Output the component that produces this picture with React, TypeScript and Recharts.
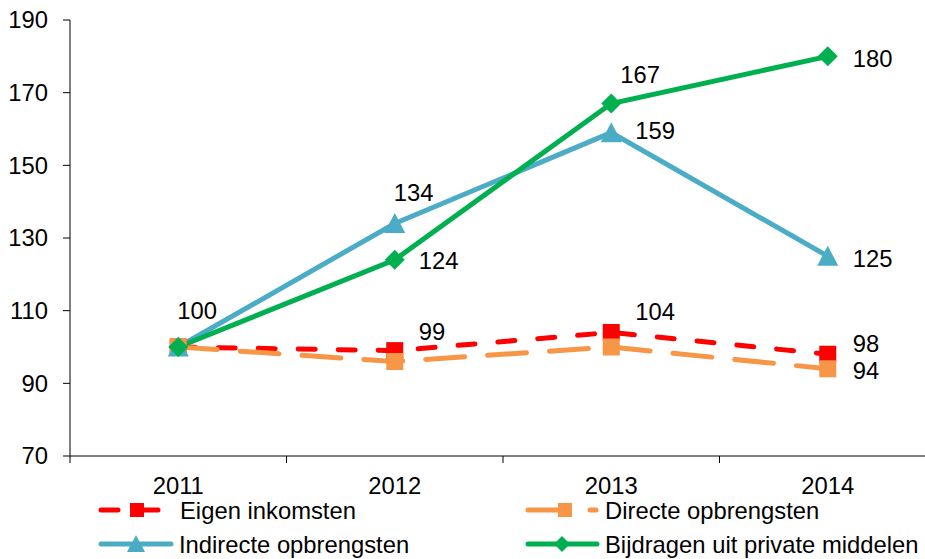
import React from 'react'
import { LineChart, Line, XAxis, YAxis, LabelList } from 'recharts'

const years = ['2011', '2012', '2013', '2014']
const eigenInkomsten = [100, 99, 104, 98]
const directeOpbrengsten = [100, 96, 100, 94]
const indirecteOpbrengsten = [100, 134, 159, 125]
const privateMiddelen = [100, 124, 167, 180]
const yTicks = [70, 90, 110, 130, 150, 170, 190]
const seriesNames = [
  'Eigen inkomsten',
  'Directe opbrengsten',
  'Indirecte opbrengsten',
  'Bijdragen uit private middelen',
]

const rows = years.map((year, i) => ({
  x: i,
  year,
  eigen: eigenInkomsten[i],
  directe: directeOpbrengsten[i],
  indirecte: indirecteOpbrengsten[i],
  privaat: privateMiddelen[i],
}))
// category boundaries get a tick mark, category centres get the year
const xTicks = [-0.5, 0, 0.5, 1, 1.5, 2, 2.5, 3, 3.5]

const FONT = '"Liberation Sans", Arial, sans-serif'
const FS = 23.8
const RED = '#FF0000'
const ORANGE = '#F79646'
const BLUE = '#4BACC6'
const GREEN = '#00B050'
const RED_DASH = '17 23'
const ORANGE_DASH = '39 23'
const X_TICK_SIZE = 7
const X_TICK_MARGIN = 14

// label placement per point: [dx, dy] from the marker, null = no label
const eigenLabels = [[-1, -37], [24, -19], [24, -21], [25, -11]]
const directeLabels = [null, null, null, [25, 2]]
const indirecteLabels = [null, [-1, -31], [24, -2], [25, 2]]
const privaatLabels = [null, [24, 1], [9, -29], [25, 2]]

function pointLabel(offsets: (number[] | null)[]) {
  return (props: any) => {
    const { x, y, value, index } = props
    const o = offsets[index]
    if (!o || value == null) return null
    return (
      <text x={x + o[0]} y={y + o[1]} dominantBaseline="central" fontSize={FS} fontFamily={FONT} fill="#000">
        {value}
      </text>
    )
  }
}

function Marker({ kind, cx, cy, color, size }: { kind: string; cx: number; cy: number; color: string; size: number }) {
  const h = size / 2
  if (kind === 'square') return <rect x={cx - h} y={cy - h} width={size} height={size} fill={color} />
  if (kind === 'triangle')
    return <polygon points={`${cx},${cy - h - 1} ${cx + h + 1},${cy + h} ${cx - h - 1},${cy + h}`} fill={color} />
  return <polygon points={`${cx},${cy - h} ${cx + h},${cy} ${cx},${cy + h} ${cx - h},${cy}`} fill={color} />
}

function dot(kind: string, color: string, size: number) {
  return (props: any) => {
    const { cx, cy, index } = props
    if (cx == null || cy == null) return <g key={index} />
    return <Marker key={index} kind={kind} cx={cx} cy={cy} color={color} size={size} />
  }
}

function XTick(props: any) {
  const { x, y, payload } = props
  const v = payload.value
  if (Number.isInteger(v)) {
    return (
      <text x={x} y={y} dy="0.71em" textAnchor="middle" fontSize={FS} fontFamily={FONT} fill="#000">
        {years[v]}
      </text>
    )
  }
  const axisY = y - X_TICK_SIZE - X_TICK_MARGIN
  return <line x1={x} x2={x} y1={axisY} y2={axisY + X_TICK_SIZE} stroke="#000" />
}

const legendItems = [
  { name: seriesNames[0], color: RED, dash: RED_DASH, kind: 'square', x: 101, end: 164, mx: 137, tx: 180, cy: 510 },
  { name: seriesNames[1], color: ORANGE, dash: ORANGE_DASH, kind: 'square', x: 528, end: 596, mx: 565, tx: 605, cy: 510 },
  { name: seriesNames[2], color: BLUE, dash: undefined, kind: 'triangle', x: 101, end: 171, mx: 136, tx: 179, cy: 544 },
  { name: seriesNames[3], color: GREEN, dash: undefined, kind: 'diamond', x: 528, end: 597, mx: 562, tx: 605, cy: 544 },
]

export default function App() {
  return (
    <div
      style={{
        position: 'absolute',
        left: 0,
        top: 0,
        width: 925,
        height: 559,
        overflow: 'hidden',
        background: '#fff',
        fontFamily: FONT,
      }}
    >
      <LineChart width={940} height={559} data={rows} margin={{ top: 20, right: 4, bottom: 73, left: 0 }}>
        <YAxis
          type="number"
          domain={[70, 190]}
          ticks={yTicks}
          interval={0}
          width={70}
          tickSize={7}
          tickMargin={15}
          axisLine={{ stroke: '#000' }}
          tickLine={{ stroke: '#000' }}
          tick={{ fill: '#000', fontSize: FS, fontFamily: FONT }}
        />
        <XAxis
          type="number"
          dataKey="x"
          domain={[-0.5, 3.5]}
          ticks={xTicks}
          interval={0}
          height={30}
          tickLine={false}
          tickSize={X_TICK_SIZE}
          tickMargin={X_TICK_MARGIN}
          axisLine={{ stroke: '#000' }}
          tick={(p: any) => <XTick {...p} />}
        />
        <Line
          type="linear"
          dataKey="eigen"
          name={seriesNames[0]}
          stroke={RED}
          strokeWidth={5}
          strokeDasharray={RED_DASH}
          strokeLinecap="round"
          dot={dot('square', RED, 17)}
          isAnimationActive={false}
        >
          <LabelList dataKey="eigen" content={pointLabel(eigenLabels)} />
        </Line>
        <Line
          type="linear"
          dataKey="directe"
          name={seriesNames[1]}
          stroke={ORANGE}
          strokeWidth={5}
          strokeDasharray={ORANGE_DASH}
          strokeLinecap="round"
          dot={dot('square', ORANGE, 17)}
          isAnimationActive={false}
        >
          <LabelList dataKey="directe" content={pointLabel(directeLabels)} />
        </Line>
        <Line
          type="linear"
          dataKey="indirecte"
          name={seriesNames[2]}
          stroke={BLUE}
          strokeWidth={5}
          dot={dot('triangle', BLUE, 19)}
          isAnimationActive={false}
        >
          <LabelList dataKey="indirecte" content={pointLabel(indirecteLabels)} />
        </Line>
        <Line
          type="linear"
          dataKey="privaat"
          name={seriesNames[3]}
          stroke={GREEN}
          strokeWidth={5}
          dot={dot('diamond', GREEN, 20)}
          isAnimationActive={false}
        >
          <LabelList dataKey="privaat" content={pointLabel(privaatLabels)} />
        </Line>
      </LineChart>
      <svg width={925} height={559} style={{ position: 'absolute', left: 0, top: 0, pointerEvents: 'none' }}>
        {legendItems.map((it) => (
          <g key={it.name}>
            <line
              x1={it.x}
              x2={it.end}
              y1={it.cy}
              y2={it.cy}
              stroke={it.color}
              strokeWidth={5}
              strokeDasharray={it.dash}
              strokeLinecap="round"
            />
            <Marker kind={it.kind} cx={it.mx} cy={it.cy} color={it.color} size={it.kind === 'square' ? 14 : 16} />
            <text x={it.tx} y={it.cy} dominantBaseline="central" fontSize={FS} fontFamily={FONT} fill="#000">
              {it.name}
            </text>
          </g>
        ))}
      </svg>
    </div>
  )
}
